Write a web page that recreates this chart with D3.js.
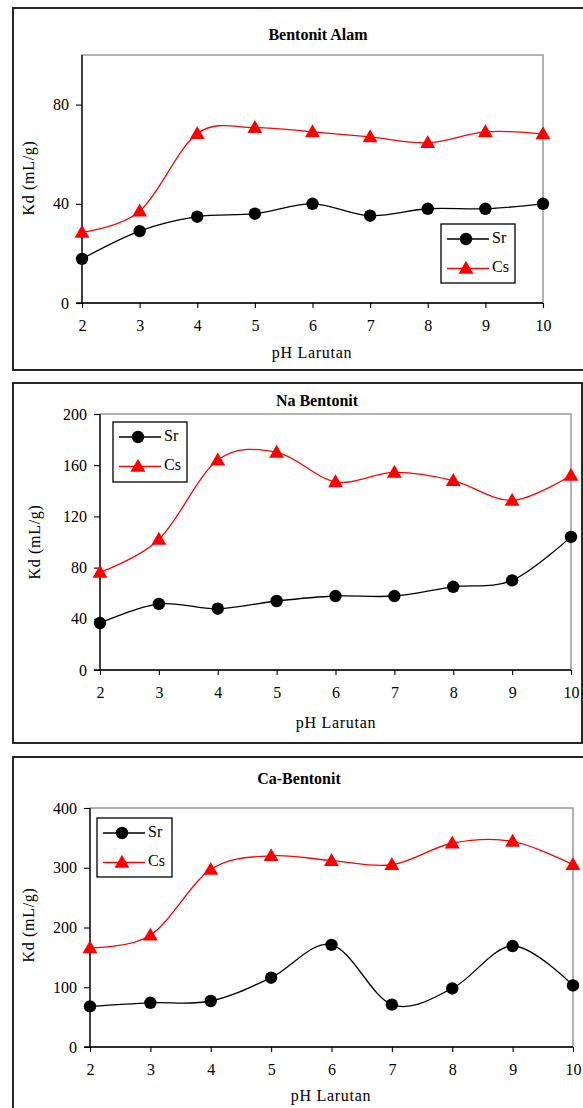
<!DOCTYPE html>
<html>
<head>
<meta charset="utf-8">
<script src="https://cdn.jsdelivr.net/npm/d3@7"></script>
<style>
  html, body { margin: 0; padding: 0; background: #fff; }
  svg { display: block; }
  text { font-family: "Liberation Serif", "Times New Roman", serif; fill: #000; }
</style>
</head>
<body>
<svg id="chart" width="583" height="1108"></svg>
<script>
// ---- data ----
const phValues = [2, 3, 4, 5, 6, 7, 8, 9, 10];
const seriesNames = ["Sr", "Cs"];
const chartTitles = ["Bentonit Alam", "Na Bentonit", "Ca-Bentonit"];
const xTitle = "pH Larutan";
const yTitle = "Kd (mL/g)";

const alamSr = [17.8, 29, 34.8, 36, 40, 35.2, 38, 38, 40];
const alamCs = [28.5, 37, 68.3, 70.7, 69, 67, 64.6, 69, 68.2];
const naSr = [36.7, 51.6, 47.9, 53.9, 57.8, 57.8, 65, 70, 104];
const naCs = [76.3, 102, 164, 170, 147, 154.4, 148, 132.5, 152];
const caSr = [68, 74, 77, 116, 171, 71, 98, 169, 103];
const caCs = [166, 187, 297, 320, 312, 305, 341, 344, 305];

const alamTicks = [0, 40, 80];
const naTicks = [0, 40, 80, 120, 160, 200];
const caTicks = [0, 100, 200, 300, 400];

// ---- layout ----
const panels = [
  { title: chartTitles[0], sr: alamSr, cs: alamCs, ticks: alamTicks, yMax: 100,
    frame: {x: 13, y: 8, w: 600, h: 362},
    plot: {l: 82, r: 543, t: 55, b: 303},
    titleY: 36, titleX: 318, xTitleY: 354, xTitleX: 312, yTitleX: 30, yTitleY: 178,
    legend: {x: 441, y: 224, w: 74, h: 59} },
  { title: chartTitles[1], sr: naSr, cs: naCs, ticks: naTicks, yMax: 200,
    frame: {x: 13, y: 383, w: 569, h: 360},
    plot: {l: 100, r: 571, t: 414, b: 670},
    titleY: 402, titleX: 317, xTitleY: 724, xTitleX: 336, yTitleX: 36, yTitleY: 542,
    legend: {x: 113, y: 422, w: 74, h: 60} },
  { title: chartTitles[2], sr: caSr, cs: caCs, ticks: caTicks, yMax: 400,
    frame: {x: 13, y: 757, w: 600, h: 400},
    plot: {l: 90, r: 573, t: 808, b: 1047},
    titleY: 780, titleX: 299, xTitleY: 1097, xTitleX: 331, yTitleX: 30, yTitleY: 925,
    legend: {x: 97, y: 818, w: 75, h: 59} }
];

const FONT = "'Liberation Serif', 'Times New Roman', serif";
const svg = d3.select("#chart");
const colors = { Sr: "#000000", Cs: "#ff0000" };
const triangle = d3.symbol().type(d3.symbolTriangle).size(97);

function drawMarker(g, name, x, y) {
  if (name === "Sr") {
    g.append("circle").attr("cx", x).attr("cy", y).attr("r", 6.2).attr("fill", "#000");
  } else {
    g.append("path").attr("d", triangle()).attr("transform", `translate(${x},${y + 1})`)
      .attr("fill", "#ff0000");
  }
}

panels.forEach(p => {
  const g = svg.append("g");
  // outer frame
  g.append("rect").attr("x", p.frame.x).attr("y", p.frame.y)
    .attr("width", p.frame.w).attr("height", p.frame.h)
    .attr("fill", "none").attr("stroke", "#111").attr("stroke-width", 1.8);

  const x = d3.scaleLinear().domain([2, 10]).range([p.plot.l, p.plot.r]);
  const y = d3.scaleLinear().domain([0, p.yMax]).range([p.plot.b, p.plot.t]);

  // plot area border (grey)
  g.append("rect").attr("x", p.plot.l).attr("y", p.plot.t)
    .attr("width", p.plot.r - p.plot.l).attr("height", p.plot.b - p.plot.t)
    .attr("fill", "none").attr("stroke", "#999").attr("stroke-width", 1.5);

  // axes
  const xAxis = d3.axisBottom(x).tickValues(phValues).tickSize(5).tickPadding(12)
    .tickFormat(d3.format("d"));
  const yAxis = d3.axisLeft(y).tickValues(p.ticks).tickSize(6).tickPadding(7)
    .tickFormat(d3.format("d"));
  const gx = g.append("g").attr("transform", `translate(0,${p.plot.b})`).call(xAxis);
  const gy = g.append("g").attr("transform", `translate(${p.plot.l},0)`).call(yAxis);
  [gx, gy].forEach(a => {
    a.attr("font-family", FONT).attr("font-size", 16);
    a.select(".domain").attr("stroke", "#000").attr("stroke-width", 1.3);
    a.selectAll(".tick line").attr("stroke", "#000").attr("stroke-width", 1.1);
    a.selectAll(".tick text").style("font-family", FONT)
      .style("font-size", "16px").attr("fill", "#000");
  });
  gy.select(".domain").attr("d", `M-6,${p.plot.b}H0V${p.plot.t}`);
  gx.select(".domain").attr("d", `M0,0H${p.plot.r - p.plot.l}`).attr("transform", `translate(${p.plot.l},0)`);

  // titles
  g.append("text").attr("x", p.titleX).attr("y", p.titleY).attr("text-anchor", "middle")
    .attr("dominant-baseline", "middle").style("font-size", "16px").style("font-weight", "bold")
    .text(p.title);
  g.append("text").attr("x", p.xTitleX).attr("y", p.xTitleY).attr("text-anchor", "middle")
    .attr("dominant-baseline", "middle").style("font-size", "16px").style("letter-spacing", "0.7px")
    .text(xTitle);
  g.append("text").attr("transform", `translate(${p.yTitleX},${p.yTitleY}) rotate(-90)`)
    .attr("text-anchor", "middle").attr("dominant-baseline", "middle")
    .style("font-size", "16px").style("letter-spacing", "0.7px").text(yTitle);

  // lines
  const line = d3.line().x((d, i) => x(phValues[i])).y(d => y(d)).curve(d3.curveCardinal.tension(0));
  [["Sr", p.sr], ["Cs", p.cs]].forEach(([name, vals]) => {
    g.append("path").attr("d", line(vals)).attr("fill", "none")
      .attr("stroke", colors[name]).attr("stroke-width", 1.3);
  });
  [["Sr", p.sr], ["Cs", p.cs]].forEach(([name, vals]) => {
    vals.forEach((v, i) => drawMarker(g, name, x(phValues[i]), y(v)));
  });

  // legend
  const L = p.legend;
  g.append("rect").attr("x", L.x).attr("y", L.y).attr("width", L.w).attr("height", L.h)
    .attr("fill", "#fff").attr("stroke", "#000").attr("stroke-width", 1.3);
  seriesNames.forEach((name, i) => {
    const ly = L.y + 15 + i * 29.5;
    g.append("line").attr("x1", L.x + 6).attr("x2", L.x + 48).attr("y1", ly).attr("y2", ly)
      .attr("stroke", colors[name]).attr("stroke-width", 1.3);
    drawMarker(g, name, L.x + 25, ly);
    g.append("text").attr("x", L.x + 51).attr("y", ly).attr("dominant-baseline", "middle")
      .style("font-size", "16px").text(name);
  });
});
</script>
</body>
</html>
